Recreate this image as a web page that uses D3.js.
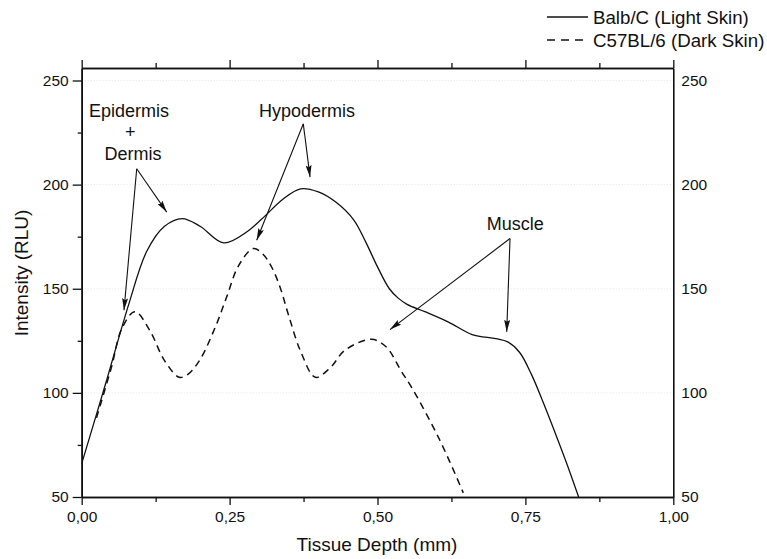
<!DOCTYPE html>
<html>
<head>
<meta charset="utf-8">
<script src="https://cdn.jsdelivr.net/npm/d3@7"></script>
<style>
  body { margin: 0; background: #fff; }
  text { font-family: "Liberation Sans", Arial, sans-serif; fill: #111; }
</style>
</head>
<body>
<script>
// Balb/C (light skin) - solid line
var depthLight = [0, 0.04, 0.08, 0.11, 0.14, 0.17, 0.20, 0.24, 0.28, 0.31, 0.34, 0.37, 0.40, 0.43, 0.46, 0.48, 0.50, 0.52, 0.535, 0.55, 0.58, 0.62, 0.66, 0.70, 0.72, 0.74, 0.76, 0.78, 0.80, 0.82, 0.84];
var intensityLight = [66, 104, 143, 168, 180, 183.7, 180, 172, 177.5, 185, 193, 198, 196.5, 191.5, 183, 172.5, 160.5, 150, 145.5, 142.5, 139, 134, 128, 126, 124.5, 119.5, 109, 95.5, 81, 66, 50];

// C57BL/6 (dark skin) - dashed line
var depthDark = [0.025, 0.05, 0.068, 0.09, 0.115, 0.14, 0.165, 0.18, 0.20, 0.225, 0.245, 0.265, 0.29, 0.305, 0.32, 0.335, 0.35, 0.37, 0.395, 0.42, 0.445, 0.49, 0.515, 0.54, 0.56, 0.605, 0.645];
var intensityDark = [88, 112, 131, 139, 130, 115.5, 107.5, 109, 116, 131, 146, 161, 169.3, 167, 161, 151, 137, 120, 107.5, 112, 120.5, 125.7, 122, 110.5, 101.5, 77.5, 52];

var seriesNames = ["Balb/C (Light Skin)", "C57BL/6 (Dark Skin)"];
var xTicks = [0, 0.25, 0.5, 0.75, 1];
var yTicks = [50, 100, 150, 200, 250];

// annotation labels and arrows, in data units
var labels = [
  { text: "Epidermis", x: 0.080, y: 232.7 },
  { text: "+", x: 0.082, y: 222.5 },
  { text: "Dermis", x: 0.0867, y: 211.6 },
  { text: "Hypodermis", x: 0.381, y: 232.7 },
  { text: "Muscle", x: 0.733, y: 178 }
];
var arrows = [
  [0.093, 207.6, 0.0715, 139.7],
  [0.093, 207.6, 0.1437, 186.8],
  [0.3746, 229.2, 0.386, 203.6],
  [0.3746, 229.2, 0.2958, 173.3],
  [0.724, 174.1, 0.7184, 129.3],
  [0.724, 174.1, 0.5211, 130.4]
];

var w = 767, h = 559;
var svg = d3.select("body").append("svg")
  .attr("width", w)
  .attr("height", h);

var x = d3.scaleLinear().domain([0, 1]).range([81.7, 673.3]);
var y = d3.scaleLinear().domain([50, 256]).range([497, 68]);

var fmt = function(d) { return d3.format(".2f")(d).replace(".", ","); };

// faint grid
svg.append("g").selectAll("line")
  .data(yTicks.slice(1))
  .enter()
  .append("line")
  .attr("x1", x(0)).attr("x2", x(1))
  .attr("y1", function(d) { return y(d); })
  .attr("y2", function(d) { return y(d); })
  .attr("stroke", "#e4e4e4")
  .attr("stroke-dasharray", "1,2");

var defs = svg.append("defs");
defs.append("clipPath").attr("id", "clip")
  .append("rect")
  .attr("x", x(0)).attr("y", y(256))
  .attr("width", x(1) - x(0)).attr("height", y(50) - y(256));

var line = d3.line()
  .x(function(d) { return x(d[0]); })
  .y(function(d) { return y(d[1]); })
  .curve(d3.curveCatmullRom.alpha(0.5));

var light = d3.zip(depthLight, intensityLight);
var dark = d3.zip(depthDark, intensityDark);

svg.append("path")
  .datum(light)
  .attr("clip-path", "url(#clip)")
  .attr("d", line)
  .attr("fill", "none")
  .attr("stroke", "#111")
  .attr("stroke-width", 1.3);

svg.append("path")
  .datum(dark)
  .attr("clip-path", "url(#clip)")
  .attr("d", line)
  .attr("fill", "none")
  .attr("stroke", "#111")
  .attr("stroke-width", 1.5)
  .attr("stroke-dasharray", "7,5");

// axes
function styleAxis(g) {
  g.selectAll(".domain").attr("stroke", "#111").attr("stroke-width", 1.6);
  g.selectAll(".tick line").attr("stroke", "#111").attr("stroke-width", 1.3);
  g.selectAll("text").attr("font-size", "15.5px").attr("fill", "#111")
    .attr("font-family", "Liberation Sans, Arial, sans-serif");
}

var xMinor = d3.range(0.125, 1, 0.25);
var yMinor = d3.range(75, 250, 50);

svg.append("g").attr("transform", "translate(0," + y(50) + ")")
  .call(d3.axisBottom(x).tickValues(xTicks).tickFormat(fmt).tickSize(8).tickPadding(6).tickSizeOuter(0))
  .call(styleAxis);
svg.append("g").attr("transform", "translate(0," + y(50) + ")")
  .call(d3.axisBottom(x).tickValues(xMinor).tickFormat("").tickSize(5).tickSizeOuter(0))
  .call(styleAxis);

svg.append("g").attr("transform", "translate(0," + y(256) + ")")
  .call(d3.axisTop(x).tickValues(xTicks).tickFormat("").tickSize(8).tickSizeOuter(0))
  .call(styleAxis);
svg.append("g").attr("transform", "translate(0," + y(256) + ")")
  .call(d3.axisTop(x).tickValues(xMinor).tickFormat("").tickSize(5).tickSizeOuter(0))
  .call(styleAxis);

svg.append("g").attr("transform", "translate(" + x(0) + ",0)")
  .call(d3.axisLeft(y).tickValues(yTicks).tickSize(9).tickPadding(4).tickSizeOuter(0))
  .call(styleAxis);
svg.append("g").attr("transform", "translate(" + x(0) + ",0)")
  .call(d3.axisLeft(y).tickValues(yMinor).tickFormat("").tickSize(4).tickSizeOuter(0))
  .call(styleAxis);

svg.append("g").attr("transform", "translate(" + x(1) + ",0)")
  .call(d3.axisRight(y).tickValues(yTicks).tickSize(0).tickPadding(8).tickSizeOuter(0))
  .call(styleAxis);

// axis titles
svg.append("text")
  .attr("x", 377).attr("y", 551)
  .attr("text-anchor", "middle")
  .attr("font-size", "19px")
  .text("Tissue Depth (mm)");

svg.append("text")
  .attr("transform", "translate(28,273) rotate(-90)")
  .attr("text-anchor", "middle")
  .attr("font-size", "19px")
  .text("Intensity (RLU)");

// legend
var legend = svg.append("g");
seriesNames.forEach(function(name, i) {
  var ly = 17 + i * 23;
  legend.append("line")
    .attr("x1", 547).attr("x2", 588)
    .attr("y1", ly).attr("y2", ly)
    .attr("stroke", "#111")
    .attr("stroke-width", 1.3)
    .attr("stroke-dasharray", i === 1 ? "8,6" : null);
  legend.append("text")
    .attr("x", 593).attr("y", ly + 6.5)
    .attr("font-size", "18.7px")
    .text(name);
});

// annotations
defs.append("marker")
  .attr("id", "head")
  .attr("viewBox", "0 0 12 6")
  .attr("refX", 12).attr("refY", 3)
  .attr("markerWidth", 12).attr("markerHeight", 6)
  .attr("markerUnits", "userSpaceOnUse")
  .attr("orient", "auto")
  .append("path")
  .attr("d", "M0,0 L12,3 L0,6 L2,3 Z")
  .attr("fill", "#111");

svg.append("g").selectAll("line")
  .data(arrows)
  .enter()
  .append("line")
  .attr("x1", function(d) { return x(d[0]); })
  .attr("y1", function(d) { return y(d[1]); })
  .attr("x2", function(d) { return x(d[2]); })
  .attr("y2", function(d) { return y(d[3]); })
  .attr("stroke", "#111")
  .attr("stroke-width", 1.1)
  .attr("marker-end", "url(#head)");

svg.append("g").selectAll("text")
  .data(labels)
  .enter()
  .append("text")
  .attr("x", function(d) { return x(d.x); })
  .attr("y", function(d) { return y(d.y); })
  .attr("text-anchor", "middle")
  .attr("font-size", "18px")
  .text(function(d) { return d.text; });
</script>
</body>
</html>
